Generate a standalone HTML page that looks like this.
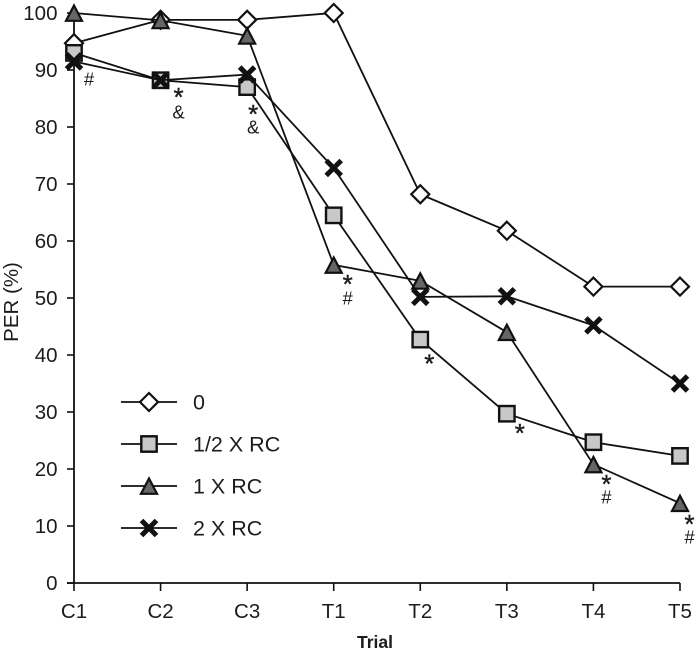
<!DOCTYPE html>
<html>
<head>
<meta charset="utf-8">
<style>
html,body{margin:0;padding:0;background:#fff;}
svg{display:block;filter:blur(0.35px);}
text{font-family:"Liberation Sans",sans-serif;fill:#1c1c1c;}
</style>
</head>
<body>
<svg id="chart" xmlns="http://www.w3.org/2000/svg" width="697" height="652" viewBox="0 0 697 652"></svg>
<script>
const categories = ['C1','C2','C3','T1','T2','T3','T4','T5'];
const yTicks = [0,10,20,30,40,50,60,70,80,90,100];
const seriesZero = [94.7,98.8,98.8,100,68.2,61.8,52,52];
const seriesHalf = [93,88.2,87,64.5,42.7,29.7,24.7,22.3];
const seriesOne = [100,98.7,96,55.8,53,44,20.8,14];
const seriesTwo = [91.5,88.2,89.2,72.8,50.2,50.3,45.2,35];
const seriesNames = ['0','1/2 X RC','1 X RC','2 X RC'];
const annotationCategories = ['C1','C2','C2','C3','C3','T1','T1','T2','T3','T4','T4','T5','T5'];
const annotationValues = [88.4,85.6,82.6,82.6,80,52.8,50,38.9,26.7,17.7,15.1,10.7,8.1];
const annotationMarks = ['#','*','&','*','&','*','#','*','*','*','#','*','#'];

const svg = document.getElementById('chart');
const NS = 'http://www.w3.org/2000/svg';
const INK = '#111';
function xScale(i){ return 74 + i * 86.57; }
function yScale(v){ return 583 - v * 5.7; }
function make(tag, attrs, parent){
  const el = document.createElementNS(NS, tag);
  for (const k in attrs) el.setAttribute(k, attrs[k]);
  (parent || svg).appendChild(el);
  return el;
}
function drawMarker(kind, x, y, g){
  if (kind === 0){
    const s = 9;
    make('polygon',{points:`${x},${y-s} ${x+s},${y} ${x},${y+s} ${x-s},${y}`,fill:'#fff',stroke:INK,'stroke-width':2.2},g);
  } else if (kind === 1){
    make('rect',{x:x-7.7,y:y-7.7,width:15.4,height:15.4,fill:'#c8c8c8',stroke:INK,'stroke-width':2.4},g);
  } else if (kind === 2){
    make('polygon',{points:`${x},${y-7.5} ${x+8},${y+7.8} ${x-8},${y+7.8}`,fill:'#666',stroke:INK,'stroke-width':2.2},g);
  } else {
    make('path',{d:`M${x-7.5},${y-7.5}L${x+7.5},${y+7.5}M${x+7.5},${y-7.5}L${x-7.5},${y+7.5}`,fill:'none',stroke:INK,'stroke-width':5},g);
  }
}
function annotationShift(ci){
  if (ci === 0) return 15;
  if (ci === 1) return 18;
  if (ci === 2) return 6;
  if (ci === 3) return 14;
  if (ci === 4) return 9;
  if (ci === 7) return 9.5;
  return 13;
}

const yAxis = make('g',{});


make('line',{x1:74,y1:yScale(100),x2:74,y2:yScale(0)+1,stroke:INK,'stroke-width':1.8},yAxis);
yTicks.forEach(function(t){
  make('line',{x1:67,y1:yScale(t),x2:74,y2:yScale(t),stroke:INK,'stroke-width':1.6},yAxis);
  const label = make('text',{x:57.5,y:yScale(t)+7,'text-anchor':'end','font-size':20.5},yAxis);
  
  
  label.textContent = t;
});

const xAxis = make('g',{});


make('line',{x1:67,y1:yScale(0),x2:xScale(7),y2:yScale(0),stroke:INK,'stroke-width':1.8},xAxis);
categories.forEach(function(c,i){
  make('line',{x1:xScale(i),y1:yScale(0),x2:xScale(i),y2:591,stroke:INK,'stroke-width':1.6},xAxis);
  const label = make('text',{x:xScale(i),y:618,'text-anchor':'middle','font-size':20.5},xAxis);
  
  
  label.textContent = c;
});

const yTitle = make('text',{x:0,y:0,'text-anchor':'middle','font-size':20.5,transform:'translate(18,302) rotate(-90)'});


yTitle.textContent = 'PER (%)';
const xTitle = make('text',{x:375,y:648,'text-anchor':'middle','font-size':17.5,'font-weight':'bold',fill:'#333',textLength:36,lengthAdjust:'spacingAndGlyphs'});


xTitle.textContent = 'Trial';

[seriesZero,seriesHalf,seriesOne,seriesTwo].forEach(function(vals,k){
  const g = make('g',{});
  
  
  const pts = vals.map(function(v,i){ return xScale(i)+','+yScale(v); }).join(' ');
  make('polyline',{points:pts,fill:'none',stroke:INK,'stroke-width':1.8},g);
  vals.forEach(function(v,i){ drawMarker(k,xScale(i),yScale(v),g); });
});

annotationMarks.forEach(function(m,i){
  const ci = categories.indexOf(annotationCategories[i]);
  const star = m === '*';
  const t = make('text',{x:xScale(ci)+annotationShift(ci),y:yScale(annotationValues[i])+(star?11:6.5),'text-anchor':'middle','font-size':star?26:18.5,stroke:star?'#1c1c1c':'none','stroke-width':star?0.4:0});
  
  
  t.textContent = m;
});

seriesNames.forEach(function(n,k){
  const y = 402 + k * 42;
  const g = make('g',{});
  
  
  make('line',{x1:121,y1:y,x2:177,y2:y,stroke:INK,'stroke-width':1.8},g);
  drawMarker(k,149,y,g);
  const t = make('text',{x:193,y:y+7.5,'font-size':21.5},g);
  
  
  t.textContent = n;
});
</script>
</body>
</html>
